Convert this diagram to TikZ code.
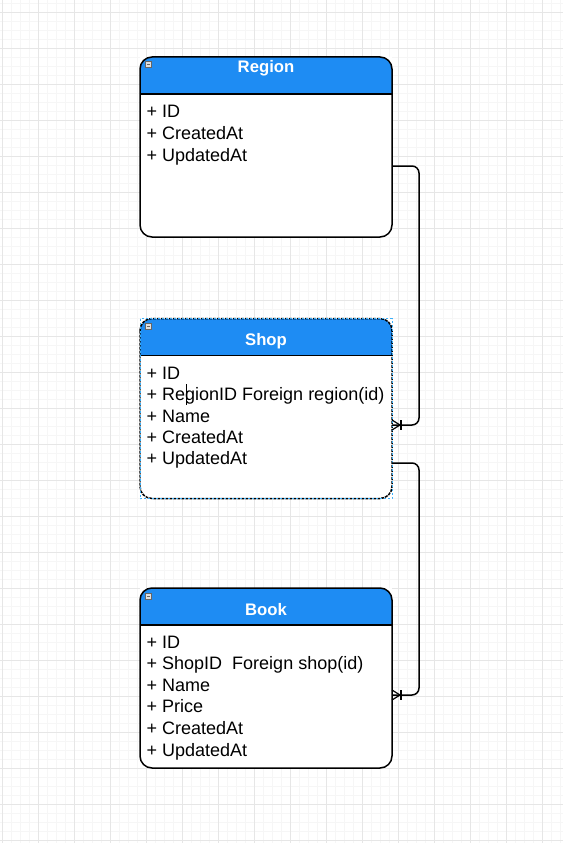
\documentclass[tikz,border=0pt]{standalone}
\usepackage{fontspec}
\setmainfont{Liberation Sans}
\usetikzlibrary{calc}
\definecolor{headblue}{HTML}{1E8CF3}
\definecolor{gridminor}{HTML}{F6F6F6}
\definecolor{gridmajor}{HTML}{E6E6E6}
\definecolor{selblue}{HTML}{3AAEF8}
\begin{document}
\begin{tikzpicture}[x=1pt,y=-1pt,
  tbl/.style={rectangle, fill=white, minimum width=252pt, minimum height=180pt, anchor=north west, inner sep=0pt, outer sep=0pt},
  border/.style={draw=black, line width=1.5pt, rounded corners=12pt},
  title/.style={text=white, font=\fontsize{16.7}{18}\selectfont\bfseries, anchor=base, inner sep=0pt},
  row/.style={font=\fontsize{18}{20}\selectfont, anchor=base west, inner sep=0pt},
  icon/.style={draw=gray!80!black, fill=gray!25, line width=0.5pt, minimum size=6pt, inner sep=0pt,
    path picture={\draw[line width=0.8pt] ([xshift=1.3pt]path picture bounding box.west) -- ([xshift=-1.3pt]path picture bounding box.east);}},
  conn/.style={draw=black, line width=1.5pt, rounded corners=7pt},
  foot/.style={draw=black, line width=1.2pt},
  sel/.style={draw=selblue, line width=0.9pt, dash pattern=on 2pt off 2pt}
]
\useasboundingbox (0,0) rectangle (563,843);
\fill[white] (0,0) rectangle (563,843);
% grid
\foreach \i in {0,...,62} \draw[gridminor, line width=0.6pt] ({2+9*\i},0) -- ({2+9*\i},843);
\foreach \j in {0,...,93} \draw[gridminor, line width=0.6pt] (0,{3+9*\j}) -- (563,{3+9*\j});
\foreach \i in {0,...,15} \draw[gridmajor, line width=0.7pt] ({2+36*\i},0) -- ({2+36*\i},843);
\foreach \j in {0,...,23} \draw[gridmajor, line width=0.7pt] (0,{12+36*\j}) -- (563,{12+36*\j});

% ---------- Region ----------
\node[tbl] (region) at (140,57) {};
\begin{scope}
  \clip[rounded corners=12pt] (region.north west) rectangle (region.south east);
  \fill[headblue] (region.north west) rectangle ([yshift=-37pt]region.north east);
\end{scope}
\draw[line width=1.4pt] ([yshift=-37pt]region.north west) -- ([yshift=-37pt]region.north east);
\draw[border] (region.north west) rectangle (region.south east);
\node[icon] (regionicon) at ([xshift=8.5pt,yshift=-7pt]region.north west) {};
\node[title] (regiontitle) at ([yshift=-15.6pt]region.north) {Region};
\foreach \t [count=\i] in {{+ ID},{+ CreatedAt},{+ UpdatedAt}}
  \node[row] (region-r\i) at ([xshift=6.5pt,yshift={-(60+22*(\i-1))}]region.north west) {\t};

% ---------- Shop ----------
\node[tbl] (shop) at (140,318.5) {};
\begin{scope}
  \clip[rounded corners=12pt] (shop.north west) rectangle (shop.south east);
  \fill[headblue] (shop.north west) rectangle ([yshift=-37pt]shop.north east);
\end{scope}
\draw[line width=1.4pt] ([yshift=-37pt]shop.north west) -- ([yshift=-37pt]shop.north east);
\draw[border, dash pattern=on 3pt off 1pt] (shop.north west) rectangle (shop.south east);
\draw[sel] (shop.north west) rectangle (shop.south east);
\node[icon] (shopicon) at ([xshift=8.5pt,yshift=-7.5pt]shop.north west) {};
\node[title] (shoptitle) at ([yshift=-26.7pt]shop.north) {Shop};
\foreach \t [count=\i] in {{+ ID},{+ RegionID Foreign region(id)},{+ Name},{+ CreatedAt},{+ UpdatedAt}}
  \node[row] (shop-r\i) at ([xshift=6.5pt,yshift={-(61+21.25*(\i-1))}]shop.north west) {\t};
% text cursor
\draw[line width=0.7pt] ([xshift=46.7pt,yshift=-65.5pt]shop.north west) -- ([xshift=46.7pt,yshift=-86.5pt]shop.north west);

% ---------- Book ----------
\node[tbl] (book) at (140,588) {};
\begin{scope}
  \clip[rounded corners=12pt] (book.north west) rectangle (book.south east);
  \fill[headblue] (book.north west) rectangle ([yshift=-37pt]book.north east);
\end{scope}
\draw[line width=1.4pt] ([yshift=-37pt]book.north west) -- ([yshift=-37pt]book.north east);
\draw[border] (book.north west) rectangle (book.south east);
\node[icon] (bookicon) at ([xshift=8.5pt,yshift=-8pt]book.north west) {};
\node[title] (booktitle) at ([yshift=-27.2pt]book.north) {Book};
\foreach \t [count=\i] in {{+ ID},{+ ShopID~ Foreign shop(id)},{+ Name},{+ Price},{+ CreatedAt},{+ UpdatedAt}}
  \node[row] (book-r\i) at ([xshift=6.5pt,yshift={-(60+21.6*(\i-1))}]book.north west) {\t};

% ---------- connectors ----------
\draw[conn] ([yshift=-19pt]region.east) -- ++(27,0) |- ([yshift=-16.5pt]shop.east);
\draw[foot] ([yshift=-11.5pt]shop.east) -- ([xshift=8pt,yshift=-16.5pt]shop.east) -- ([yshift=-21.5pt]shop.east);
\draw[foot] ([xshift=9pt,yshift=-11.5pt]shop.east) -- ([xshift=9pt,yshift=-21.5pt]shop.east);

\draw[conn] ([yshift=-54.5pt]shop.east) -- ++(27,0) |- ([yshift=-17pt]book.east);
\draw[foot] ([yshift=-12pt]book.east) -- ([xshift=8pt,yshift=-17pt]book.east) -- ([yshift=-22pt]book.east);
\draw[foot] ([xshift=9pt,yshift=-12pt]book.east) -- ([xshift=9pt,yshift=-22pt]book.east);
\end{tikzpicture}
\end{document}
